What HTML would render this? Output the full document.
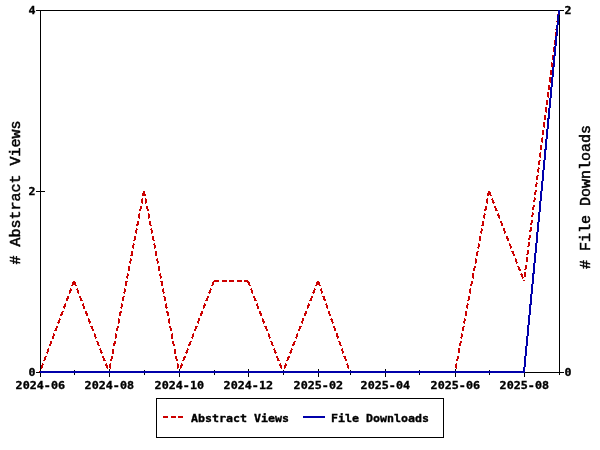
<!DOCTYPE html>
<html><head><meta charset="utf-8"><title>Usage statistics</title>
<style>
html,body{margin:0;padding:0;background:#fff;}
body{width:600px;height:450px;overflow:hidden;}
svg{display:block;}
.ax{stroke:#000;stroke-width:1;shape-rendering:crispEdges;fill:none;}
.tk{font-family:"DejaVu Sans Mono","Liberation Mono",monospace;font-weight:bold;font-size:11px;fill:#000;stroke:#000;stroke-width:0.35px;}
.ti{font-family:"Liberation Mono","DejaVu Sans Mono",monospace;font-size:14px;fill:#000;stroke:#000;stroke-width:0.5px;}
</style></head><body>
<svg width="600" height="450" viewBox="0 0 600 450">
<rect x="0" y="0" width="600" height="450" fill="#ffffff"/>
<g class="ax">
<line x1="40.5" y1="10" x2="40.5" y2="373"/>
<line x1="559.5" y1="10" x2="559.5" y2="373"/>
<line x1="40" y1="10.5" x2="560" y2="10.5"/>
<line x1="40" y1="372.5" x2="560" y2="372.5"/>
<line x1="40.5" y1="369" x2="40.5" y2="377"/>
<line x1="74.5" y1="370" x2="74.5" y2="375"/>
<line x1="109.5" y1="369" x2="109.5" y2="377"/>
<line x1="144.5" y1="370" x2="144.5" y2="375"/>
<line x1="179.5" y1="369" x2="179.5" y2="377"/>
<line x1="214.5" y1="370" x2="214.5" y2="375"/>
<line x1="248.5" y1="369" x2="248.5" y2="377"/>
<line x1="283.5" y1="370" x2="283.5" y2="375"/>
<line x1="318.5" y1="369" x2="318.5" y2="377"/>
<line x1="350.5" y1="370" x2="350.5" y2="375"/>
<line x1="385.5" y1="369" x2="385.5" y2="377"/>
<line x1="419.5" y1="370" x2="419.5" y2="375"/>
<line x1="455.5" y1="369" x2="455.5" y2="377"/>
<line x1="489.5" y1="370" x2="489.5" y2="375"/>
<line x1="524.5" y1="369" x2="524.5" y2="377"/>
<line x1="559.5" y1="370" x2="559.5" y2="375"/>
<line x1="36" y1="372.5" x2="40" y2="372.5"/>
<line x1="36" y1="191.5" x2="45" y2="191.5"/>
<line x1="36" y1="10.5" x2="40" y2="10.5"/>
<line x1="559" y1="372.5" x2="564" y2="372.5"/>
<line x1="559" y1="10.5" x2="564" y2="10.5"/>
</g>
<g fill="none" stroke="#cc0000" stroke-width="2" shape-rendering="crispEdges">
<line x1="74" y1="281" x2="40" y2="372" stroke-dasharray="5.34 2.67"/>
<line x1="74" y1="281" x2="109" y2="372" stroke-dasharray="5.36 2.68"/>
<line x1="144" y1="191" x2="109" y2="372" stroke-dasharray="5.09 2.55"/>
<line x1="144" y1="191" x2="179" y2="372" stroke-dasharray="5.09 2.55"/>
<line x1="214" y1="281" x2="179" y2="372" stroke-dasharray="5.36 2.68"/>
<line x1="214" y1="281" x2="248" y2="281" stroke-dasharray="5.00 2.50"/>
<line x1="248" y1="281" x2="283" y2="372" stroke-dasharray="5.36 2.68"/>
<line x1="318" y1="281" x2="283" y2="372" stroke-dasharray="5.36 2.68"/>
<line x1="318" y1="281" x2="350" y2="372" stroke-dasharray="5.30 2.65"/>
<line x1="350" y1="372" x2="385" y2="372" stroke-dasharray="5.00 2.50"/>
<line x1="385" y1="372" x2="419" y2="372" stroke-dasharray="5.00 2.50"/>
<line x1="419" y1="372" x2="455" y2="372" stroke-dasharray="5.00 2.50"/>
<line x1="489" y1="191" x2="455" y2="372" stroke-dasharray="5.09 2.54"/>
<line x1="489" y1="191" x2="524" y2="281" stroke-dasharray="5.36 2.68"/>
<line x1="559" y1="10" x2="524" y2="281" stroke-dasharray="5.04 2.52"/>
</g>
<polyline points="40,372 524,372 559,10" fill="none" stroke="#0000aa" stroke-width="2" stroke-linejoin="miter" shape-rendering="crispEdges"/>
<text class="tk" x="28.5" y="375.9" textLength="7" lengthAdjust="spacingAndGlyphs">0</text>
<text class="tk" x="28.5" y="194.9" textLength="7" lengthAdjust="spacingAndGlyphs">2</text>
<text class="tk" x="28.5" y="13.9" textLength="7" lengthAdjust="spacingAndGlyphs">4</text>
<text class="tk" x="564.5" y="375.9" textLength="7" lengthAdjust="spacingAndGlyphs">0</text>
<text class="tk" x="564.5" y="13.9" textLength="7" lengthAdjust="spacingAndGlyphs">2</text>
<text class="tk" x="15.600000000000001" y="389.2" textLength="49.4" lengthAdjust="spacingAndGlyphs">2024-06</text>
<text class="tk" x="84.6" y="389.2" textLength="49.4" lengthAdjust="spacingAndGlyphs">2024-08</text>
<text class="tk" x="154.6" y="389.2" textLength="49.4" lengthAdjust="spacingAndGlyphs">2024-10</text>
<text class="tk" x="223.6" y="389.2" textLength="49.4" lengthAdjust="spacingAndGlyphs">2024-12</text>
<text class="tk" x="293.6" y="389.2" textLength="49.4" lengthAdjust="spacingAndGlyphs">2025-02</text>
<text class="tk" x="360.6" y="389.2" textLength="49.4" lengthAdjust="spacingAndGlyphs">2025-04</text>
<text class="tk" x="430.6" y="389.2" textLength="49.4" lengthAdjust="spacingAndGlyphs">2025-06</text>
<text class="tk" x="499.6" y="389.2" textLength="49.4" lengthAdjust="spacingAndGlyphs">2025-08</text>
<text class="ti" transform="translate(20,264.6) rotate(-90)" textLength="144" lengthAdjust="spacingAndGlyphs"># Abstract Views</text>
<text class="ti" transform="translate(590,269) rotate(-90)" textLength="144" lengthAdjust="spacingAndGlyphs"># File Downloads</text>
<rect x="156.5" y="398.5" width="287" height="39" fill="#fff" stroke="#000" stroke-width="1" shape-rendering="crispEdges"/>
<line x1="163" y1="417" x2="183" y2="417" stroke="#cc0000" stroke-width="2" stroke-dasharray="5 2.5" shape-rendering="crispEdges"/>
<text class="tk" x="191" y="422.4" textLength="98" lengthAdjust="spacingAndGlyphs">Abstract Views</text>
<line x1="303" y1="417" x2="325" y2="417" stroke="#0000aa" stroke-width="2" shape-rendering="crispEdges"/>
<text class="tk" x="331" y="422.4" textLength="98" lengthAdjust="spacingAndGlyphs">File Downloads</text>
</svg>
</body></html>
